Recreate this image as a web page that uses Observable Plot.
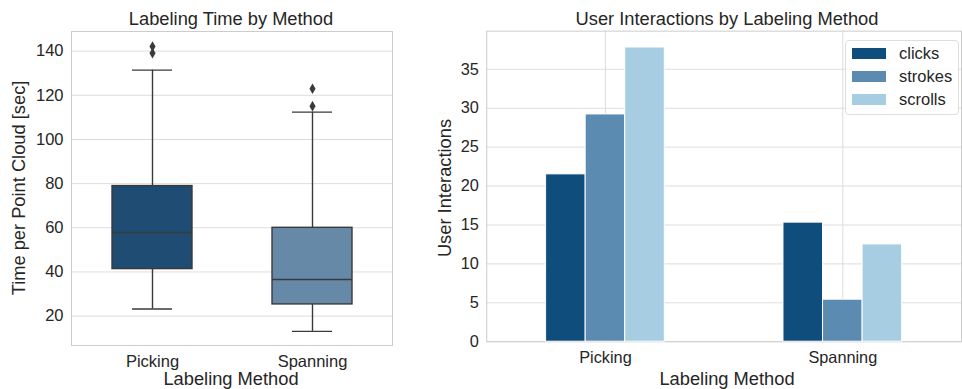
<!DOCTYPE html>
<html>
<head>
<meta charset="utf-8">
<script src="https://cdn.jsdelivr.net/npm/d3@7"></script>
<script src="https://cdn.jsdelivr.net/npm/@observablehq/plot@0.6"></script>
<style>
  html, body { margin: 0; padding: 0; background: #ffffff; }
  body { font-family: "Liberation Sans", Arial, sans-serif; color: #262626; }
  #wrap { position: relative; width: 962px; height: 389px; overflow: hidden; background: #fff; }
  .panel { position: absolute; top: 0; }
  #overlay { position: absolute; left: 0; top: 0; pointer-events: none; }
  #legend { position: absolute; left: 845px; top: 40px; width: 112px; height: 73px;
    border: 1px solid #dedede; border-radius: 4px; background: rgba(255,255,255,0.85); box-sizing: content-box; }
  .item { position: absolute; left: 0; height: 20px; font-size: 16.5px; line-height: 20px; white-space: nowrap; }
  .sw { position: absolute; left: 6px; top: 4px; width: 34px; height: 11px; }
  .lab { position: absolute; left: 53px; top: -1px; color: #262626; }
</style>
</head>
<body>
<div id="wrap">
  <div id="left" class="panel" style="left:0px"></div>
  <div id="right" class="panel" style="left:420px"></div>
  <div id="legend"></div>
</div>
<script>
// ---------- data ----------
const methods = ["Picking", "Spanning"];

// Labeling time box-plot statistics (seconds)
const timeWhiskerLow  = [23.2, 13.1];
const timeQ1          = [41.3, 25.3];
const timeMedian      = [57.9, 36.6];
const timeQ3          = [78.9, 60.0];
const timeWhiskerHigh = [131.4, 112.4];
const outlierMethod   = ["Picking", "Picking", "Spanning", "Spanning"];
const outlierTime     = [139.1, 142.1, 115.1, 123.0];
const timeTicks       = [20, 40, 60, 80, 100, 120, 140];

// User interactions
const series  = ["clicks", "strokes", "scrolls"];
const clicks  = [21.5, 15.3];
const strokes = [29.2, 5.4];
const scrolls = [37.8, 12.5];
const interactionTicks = [0, 5, 10, 15, 20, 25, 30, 35];

// ---------- styles ----------
const boxColors = ["#1e4c72", "#6789a8"];
const seriesColors = ["#0f4d7d", "#5c8bb1", "#a6cde2"];
const lineColor = "#3a3a3a";
const gridColor = "#dddddd";
const frameColor = "#cccccc";
const textColor = "#262626";
const fontFamily = "'Liberation Sans', Arial, sans-serif";

// ---------- left: box plot ----------
const boxes = methods.map((m, i) => ({
  method: m, low: timeWhiskerLow[i], q1: timeQ1[i], med: timeMedian[i],
  q3: timeQ3[i], high: timeWhiskerHigh[i], color: boxColors[i]
}));
const outliers = outlierMethod.map((m, i) => ({ method: m, value: outlierTime[i] }));

const left = Plot.plot({
  width: 400, height: 389,
  marginLeft: 71, marginRight: 8, marginTop: 31, marginBottom: 44,
  style: { fontFamily, fontSize: "16.5px", color: textColor, background: "transparent", overflow: "visible" },
  x: { type: "band", domain: methods, padding: 0 },
  y: { domain: [6.7, 148.9] },
  color: { type: "identity" },
  marks: [
    Plot.gridY(timeTicks, { stroke: gridColor, strokeOpacity: 1, strokeWidth: 1 }),
    Plot.frame({ stroke: frameColor, strokeWidth: 1 }),
    Plot.ruleX(boxes, { x: "method", y1: "low", y2: "high", stroke: lineColor, strokeWidth: 1.4 }),
    Plot.barY(boxes, { x: "method", y1: "q1", y2: "q3", fill: "color", stroke: lineColor, strokeWidth: 1.4, insetLeft: 40, insetRight: 40 }),
    Plot.tickY(boxes, { x: "method", y: "med", stroke: lineColor, strokeWidth: 1.4, insetLeft: 40, insetRight: 40 }),
    Plot.tickY(boxes, { x: "method", y: "low", stroke: lineColor, strokeWidth: 1.4, insetLeft: 60, insetRight: 60 }),
    Plot.tickY(boxes, { x: "method", y: "high", stroke: lineColor, strokeWidth: 1.4, insetLeft: 60, insetRight: 60 }),
    Plot.dot(outliers, { x: "method", y: "value", symbol: "diamond", r: 3.2, fill: lineColor, stroke: "none" }),
    Plot.axisY(timeTicks, { tickSize: 0, tickPadding: 8, label: null, fill: textColor }),
    Plot.axisX({ tickSize: 0, tickPadding: 10, label: null, fill: textColor })
  ]
});
document.getElementById("left").appendChild(left);

// ---------- right: grouped bars ----------
const values = [clicks, strokes, scrolls];
const groupWidth = 0.5;
const bars = [];
methods.forEach((m, i) => {
  series.forEach((s, j) => {
    const x1 = i - groupWidth / 2 + j * groupWidth / series.length;
    bars.push({ method: m, series: s, x1, x2: x1 + groupWidth / series.length, value: values[j][i], color: seriesColors[j] });
  });
});

const right = Plot.plot({
  width: 548, height: 389,
  marginLeft: 67, marginRight: 1, marginTop: 31, marginBottom: 44,
  style: { fontFamily, fontSize: "16.5px", color: textColor, background: "transparent", overflow: "visible" },
  x: { type: "linear", domain: [-0.5, 1.5] },
  y: { domain: [0, 39.9] },
  color: { type: "identity" },
  marks: [
    Plot.gridY(interactionTicks, { stroke: gridColor, strokeOpacity: 1, strokeWidth: 1 }),
    Plot.gridX([0, 1], { stroke: gridColor, strokeOpacity: 1, strokeWidth: 1 }),
    Plot.frame({ stroke: frameColor, strokeWidth: 1 }),
    Plot.rectY(bars, { x1: "x1", x2: "x2", y1: 0, y2: "value", fill: "color", stroke: "white", strokeWidth: 1 }),
    Plot.axisY(interactionTicks, { tickSize: 0, tickPadding: 8, label: null, fill: textColor }),
    Plot.axisX([0, 1], { tickSize: 0, tickPadding: 10, label: null, fill: textColor, tickFormat: i => methods[i] })
  ]
});
document.getElementById("right").appendChild(right);

// ---------- legend ----------
const legend = d3.select("#legend");
series.forEach((s, j) => {
  const it = legend.append("div").attr("class", "item").style("top", (3 + j * 23) + "px");
  it.append("div").attr("class", "sw").style("background", seriesColors[j]);
  it.append("div").attr("class", "lab").text(s);
});

// ---------- titles & axis labels ----------
const ov = d3.select("#wrap").append("svg").attr("id", "overlay")
  .attr("width", 962).attr("height", 389)
  .style("font-family", fontFamily).style("fill", textColor);
const txt = (t, x, y, rot) => {
  const e = ov.append("text").attr("text-anchor", "middle").attr("font-size", 18.3).text(t);
  if (rot) e.attr("transform", `translate(${x},${y}) rotate(-90)`);
  else e.attr("x", x).attr("y", y);
};
txt("Labeling Time by Method", 231, 25);
txt("User Interactions by Labeling Method", 727, 25);
txt("Labeling Method", 231, 385);
txt("Labeling Method", 727, 385);
txt("Time per Point Cloud [sec]", 25, 188, true);
txt("User Interactions", 451, 188, true);
</script>
</body>
</html>
